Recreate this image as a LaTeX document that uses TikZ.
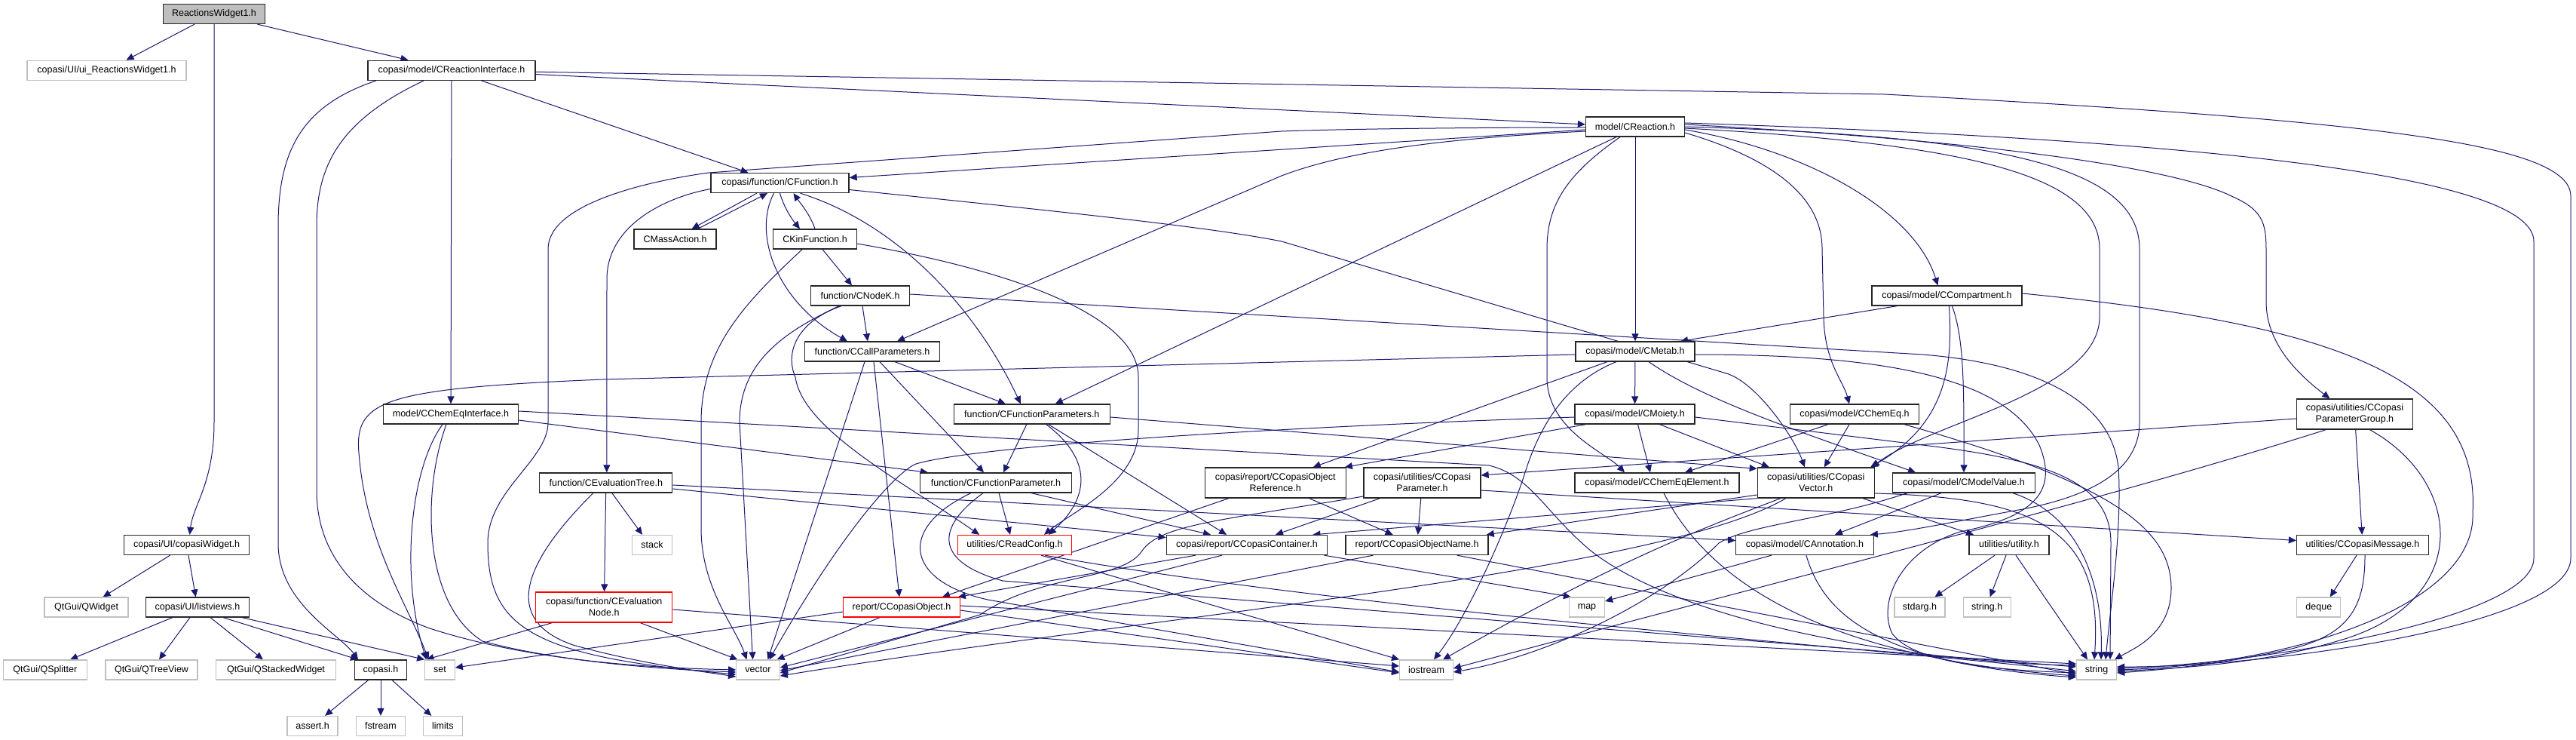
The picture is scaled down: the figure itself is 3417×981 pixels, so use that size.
\documentclass[tikz,border=0pt]{standalone}
\usepackage{fontspec}
\setmainfont{Liberation Sans}
\usetikzlibrary{arrows.meta}
\pgfdeclarelayer{bg}
\pgfsetlayers{bg,main}
\definecolor{edgec}{HTML}{191970}
\definecolor{grayb}{HTML}{BFBFBF}
\begin{document}
\begin{tikzpicture}[x=1pt,y=-1pt,
 nb/.style={draw=black!85,fill=white,line width=1.3pt,inner sep=0pt,minimum height=26pt,align=center,font=\fontsize{12.5pt}{15pt}\selectfont},
 gb/.style={nb,draw=grayb},
 rb/.style={nb,draw=red},
 edg/.style={draw=edgec,line width=1pt,-{Triangle[length=10pt,width=9pt]}}]
\useasboundingbox (0,0) rectangle (3417,981);
% nodes
\node[nb,fill=grayb,minimum width=135pt] (rw) at (284,18.5) {ReactionsWidget1.h};
\node[gb,minimum width=211pt] (uirw) at (141.5,93.3) {copasi/UI/ui\_ReactionsWidget1.h};
\node[nb,minimum width=222pt] (cri) at (599,93.3) {copasi/model/CReactionInterface.h};
\node[nb,minimum width=131pt] (cr) at (2169,168) {model/CReaction.h};
\node[nb,minimum width=183pt] (cfunc) at (1034.5,242.5) {copasi/function/CFunction.h};
\node[nb,minimum width=109pt] (cmass) at (895.6,317) {CMassAction.h};
\node[nb,minimum width=111pt] (ckin) at (1081,317) {CKinFunction.h};
\node[nb,minimum width=131pt] (cnodek) at (1141,392) {function/CNodeK.h};
\node[nb,minimum width=199pt] (ccomp) at (2582.4,392) {copasi/model/CCompartment.h};
\node[nb,minimum width=179pt] (ccallp) at (1157,466) {function/CCallParameters.h};
\node[nb,minimum width=158pt] (cmetab) at (2169,466) {copasi/model/CMetab.h};
\node[nb,minimum width=179pt] (ceqi) at (598,549) {model/CChemEqInterface.h};
\node[nb,minimum width=207pt] (cfps) at (1368.8,549) {function/CFunctionParameters.h};
\node[nb,minimum width=159pt] (cmoiety) at (2168.5,549) {copasi/model/CMoiety.h};
\node[nb,minimum width=171pt] (cchemeq) at (2460,549) {copasi/model/CChemEq.h};
\node[nb,minimum width=154pt,minimum height=40pt] (cpgroup) at (3123.4,549) {copasi/utilities/CCopasi\\ParameterGroup.h};
\node[nb,minimum width=176pt] (cevtree) at (803.8,640) {function/CEvaluationTree.h};
\node[nb,minimum width=201pt] (cfp) at (1321,640) {function/CFunctionParameter.h};
\node[nb,minimum width=187pt,minimum height=40pt] (ccoref) at (1691.7,640) {copasi/report/CCopasiObject\\Reference.h};
\node[nb,minimum width=155pt,minimum height=40pt] (cparam) at (1886.5,640) {copasi/utilities/CCopasi\\Parameter.h};
\node[nb,minimum width=218pt] (cceqel) at (2198,640) {copasi/model/CChemEqElement.h};
\node[nb,minimum width=155pt,minimum height=40pt] (ccvec) at (2408.8,640) {copasi/utilities/CCopasi\\Vector.h};
\node[nb,minimum width=189pt] (cmval) at (2605,640) {copasi/model/CModelValue.h};
\node[nb,minimum width=166pt] (cwidget) at (247.6,722.5) {copasi/UI/copasiWidget.h};
\node[gb,minimum width=53pt] (stack) at (865,722.5) {stack};
\node[rb,minimum width=151pt] (creadcfg) at (1346,722.5) {utilities/CReadConfig.h};
\node[nb,minimum width=213.5pt] (ccont) at (1654,722.5) {copasi/report/CCopasiContainer.h};
\node[nb,minimum width=189pt] (cconame) at (1879.6,722.5) {report/CCopasiObjectName.h};
\node[nb,minimum width=182.5pt] (cannot) at (2393.9,722.5) {copasi/model/CAnnotation.h};
\node[nb,minimum width=106pt] (utility) at (2665,722.5) {utilities/utility.h};
\node[nb,minimum width=175pt] (cmsg) at (3134,722.5) {utilities/CCopasiMessage.h};
\node[gb,minimum width=111pt] (qwidget) at (114.6,805) {QtGui/QWidget};
\node[nb,minimum width=137pt] (listviews) at (262,805) {copasi/UI/listviews.h};
\node[rb,minimum width=181pt,minimum height=40pt] (cevnode) at (801.3,805) {copasi/function/CEvaluation\\Node.h};
\node[rb,minimum width=154.4pt] (ccobj) at (1196,805) {report/CCopasiObject.h};
\node[gb,minimum width=47pt] (map) at (2105,805) {map};
\node[gb,minimum width=67pt] (stdarg) at (2546.5,805) {stdarg.h};
\node[gb,minimum width=63pt] (stringh) at (2635.7,805) {string.h};
\node[gb,minimum width=58pt] (deque) at (3075.8,805) {deque};
\node[gb,minimum width=111pt] (qsplit) at (59.8,888) {QtGui/QSplitter};
\node[gb,minimum width=122pt] (qtree) at (201,888) {QtGui/QTreeView};
\node[gb,minimum width=158.5pt] (qstack) at (366,888) {QtGui/QStackedWidget};
\node[nb,minimum width=69pt] (copasih) at (505,888) {copasi.h};
\node[gb,minimum width=39.5pt] (set) at (583.5,888) {set};
\node[gb,minimum width=57.4pt] (vector) at (1005.5,888) {vector};
\node[gb,minimum width=70.6pt] (iostream) at (1892,888) {iostream};
\node[gb,minimum width=53pt] (string) at (2781,888) {string};
\node[gb,minimum width=67pt] (assert) at (414.6,962.5) {assert.h};
\node[gb,minimum width=64.7pt] (fstream) at (505,962.5) {fstream};
\node[gb,minimum width=51.6pt] (limits) at (587.4,962.5) {limits};

\begin{pgfonlayer}{bg}
\fill[white] (0,0) rectangle (3417,981);
% top
\draw[edg] (rw) -- (uirw);
\draw[edg] (rw) -- (cri);
\draw[edg] (rw.south) -- (284,560) .. controls (284,640) and (256,670) .. ([xshift=4pt]cwidget.north);
\draw[edg] (cwidget) -- (qwidget);
\draw[edg] (cwidget) -- (listviews);
\draw[edg] (listviews) -- (qsplit);
\draw[edg] (listviews) -- (qtree);
\draw[edg] (listviews) -- (qstack);
\draw[edg] ([xshift=34pt]listviews.south) -- ([xshift=-30pt]copasih.north);
\draw[edg] ([xshift=59pt]listviews.south) -- (set.north west);
\draw[edg] (copasih) -- (assert);
\draw[edg] (copasih) -- (fstream);
\draw[edg] (copasih) -- (limits);
% CReactionInterface
\draw[edg] (cri) -- (cr);
\draw[edg] ([yshift=-2pt]cri.east) -- (2500,125) .. controls (3150,160) and (3410,190) .. (3410,260) -- (3410,740) .. controls (3410,830) and (3000,885) .. ([yshift=4pt]string.east);
\draw[edg] (cri) -- ([xshift=-42pt]cfunc.north);
\draw[edg] (cri) -- (ceqi);
\draw[edg] ([xshift=-100pt]cri.south) .. controls (400,140) and (369,200) .. (369,300) -- (369,720) .. controls (369,800) and (450,840) .. ([xshift=-30pt]copasih.north);
\draw[edg] ([xshift=-37pt]cri.south) .. controls (450,160) and (420,220) .. (420,300) -- (420,650) .. controls (420,740) and (480,800) .. (570,833) .. controls (700,875) and (850,885) .. (vector.west);
% CReaction
\draw[edg] ([yshift=-4pt]cr.west) -- ([yshift=7pt]cfunc.east);
\draw[edg] ([yshift=-6pt]cr.west) .. controls (1950,182) and (1800,195) .. (1700,233) -- ([xshift=33pt]ccallp.north);
\draw[edg] ([xshift=-25pt]cr.south) -- ([xshift=31pt]cfps.north);
\draw[edg] ([yshift=-1pt]cr.west) .. controls (1900,169) and (1750,172) .. (1700,174) -- (940,229) .. controls (860,240) and (727,270) .. (727,330) -- (727,560) .. controls (727,610) and (647,650) .. (647,720) .. controls (647,830) and (700,870) .. ([yshift=-6pt]vector.west);
\draw[edg] (cr) -- (cmetab);
\draw[edg] ([xshift=-20pt]cr.south) .. controls (2080,230) and (2052,270) .. (2052,330) -- (2052,500) .. controls (2052,570) and (2130,600) .. ([xshift=-43pt]cceqel.north);
\draw[edg] ([yshift=-8pt]cr.east) .. controls (2350,210) and (2417,260) .. (2417,330) -- (2419,420) .. controls (2420,480) and (2445,505) .. ([xshift=-7pt]cchemeq.north);
\draw[edg] ([yshift=-4pt]cr.east) .. controls (2400,200) and (2540,280) .. ([xshift=-12pt]ccomp.north);
\draw[edg] ([yshift=-2pt]cr.east) .. controls (2600,190) and (2785,230) .. (2785,330) -- (2785,420) .. controls (2785,520) and (2560,560) .. ([xshift=-4pt]ccvec.north east);
\draw[edg] (cr.east) .. controls (2650,180) and (2838,220) .. (2838,330) -- (2838,560) .. controls (2838,630) and (2760,660) .. (2683,675) .. controls (2600,690) and (2530,705) .. ([xshift=-5pt]cannot.north east);
\draw[edg] ([yshift=3pt]cr.east) .. controls (2700,190) and (2900,230) .. (2960,260) .. controls (3006,280) and (3006,300) .. (3006,340) -- (3006,400) .. controls (3006,450) and (3040,490) .. ([xshift=-33pt]cpgroup.north);
\draw[edg] ([yshift=5pt]cr.east) .. controls (2900,185) and (3361,230) .. (3361,320) -- (3361,740) .. controls (3361,820) and (3000,880) .. ([yshift=2pt]string.east);
% CFunction
\draw[edg] ([xshift=-30.5pt]cfunc.south) -- ([xshift=22pt]cmass.north);
\draw[edg] ([xshift=30pt]cmass.north) -- ([xshift=-16.5pt]cfunc.south);
\draw[edg] (cfunc.south) .. controls (1040,275) and (1050,290) .. ([xshift=-20pt]ckin.north);
\draw[edg] (ckin.north) .. controls (1075,285) and (1062,270) .. ([xshift=18pt]cfunc.south);
\draw[edg] ([yshift=-8pt]cfunc.west) .. controls (880,262) and (805,300) .. (805,370) -- ([xshift=1pt]cevtree.north);
\draw[edg] ([xshift=-8pt]cfunc.south) .. controls (998,310) and (1030,400) .. ([xshift=-33pt]ccallp.north);
\draw[edg] ([xshift=27pt]cfunc.south) .. controls (1200,300) and (1300,420) .. ([xshift=-15pt]cfps.north);
\draw[edg] ([yshift=-9pt]cfunc.east) .. controls (1400,280) and (1600,300) .. (1700,320) -- (2290,495) .. controls (2330,507) and (2380,580) .. ([xshift=-15pt]ccvec.north);
% CKinFunction
\draw[edg] ([xshift=10pt]ckin.south) -- ([xshift=-11pt]cnodek.north);
\draw[edg] ([xshift=-17pt]ckin.south) .. controls (990,400) and (930,460) .. (930,560) -- (930,700) .. controls (930,780) and (975,830) .. ([xshift=-15pt]vector.north);
\draw[edg] ([yshift=-6pt]ckin.east) .. controls (1350,360) and (1510,420) .. (1510,500) -- (1510,570) .. controls (1510,640) and (1420,680) .. ([xshift=39pt]creadcfg.north);
% CNodeK
\draw[edg] ([xshift=3pt]cnodek.south) -- ([xshift=-6pt]ccallp.north);
\draw[edg] ([xshift=-28pt]cnodek.south) .. controls (1040,440) and (981,480) .. (981,560) -- ([xshift=-7pt]vector.north);
\draw[edg] ([xshift=-25pt]cnodek.south) .. controls (1060,425) and (1040,465) .. (1055,500) .. controls (1065,570) and (1200,640) .. ([xshift=-47pt]creadcfg.north);
\draw[edg] ([yshift=2pt]cnodek.east) -- (2550,470) .. controls (2700,482) and (2800,530) .. (2810,620) .. controls (2815,700) and (2800,800) .. ([xshift=12pt]string.north);
% CCallParameters
\draw[edg] ([xshift=-10pt]ccallp.south) -- ([xshift=13pt]vector.north);
\draw[edg] ([xshift=2pt]ccallp.south) -- ([xshift=-3pt]ccobj.north);
\draw[edg] ([xshift=10pt]ccallp.south) -- ([xshift=-16pt]cfp.north);
\draw[edg] ([xshift=30pt]ccallp.south) -- ([xshift=-35pt]cfps.north);
% CFunctionParameters
\draw[edg] ([xshift=-7pt]cfps.south) -- ([xshift=10pt]cfp.north);
\draw[edg] ([xshift=19pt]cfps.south) .. controls (1450,610) and (1445,660) .. ([xshift=45pt]creadcfg.north);
\draw[edg] ([xshift=22pt]cfps.south) -- ([xshift=-27pt]ccont.north);
\draw[edg] ([yshift=-4pt]cfps.east) -- ([yshift=-2pt]ccvec.north west);
% CFunctionParameter
\draw[edg] ([xshift=4pt]cfp.south) -- ([xshift=-6pt]creadcfg.north);
\draw[edg] ([xshift=47pt]cfp.south) -- ([xshift=-48pt]ccont.north);
\draw[edg] ([xshift=-33pt]cfp.south) .. controls (1190,700) and (1200,770) .. (1310,795) -- ([yshift=-3pt]iostream.west);
\draw[edg] ([xshift=-17pt]cfp.south) .. controls (1240,700) and (1240,745) .. (1330,770) -- ([yshift=4pt]string.west);
% CChemEqInterface
\draw[edg] ([xshift=-11pt]ceqi.south) .. controls (545,620) and (530,760) .. ([xshift=-18pt]set.north);
\draw[edg] ([xshift=-6pt]ceqi.south) .. controls (560,650) and (560,800) .. (640,850) .. controls (750,880) and (900,888) .. ([yshift=-3pt]vector.west);
\draw[edg] ([yshift=-8pt]ceqi.east) -- ([xshift=-90pt]cfp.north);
\draw[edg] ([yshift=4pt]ceqi.east) -- (1975,617) .. controls (2030,630) and (2050,680) .. (2110,730) .. controls (2250,840) and (2600,880) .. ([yshift=6pt]string.west);
% CEvaluationTree
\draw[edg] ([xshift=8pt]cevtree.south) -- ([xshift=-13pt]stack.north);
\draw[edg] (cevtree) -- (cevnode);
\draw[edg] ([xshift=-17pt]cevtree.south) .. controls (700,740) and (660,820) .. (760,855) .. controls (850,880) and (930,890) .. ([yshift=-9pt]vector.west);
\draw[edg] ([yshift=-8pt]cevtree.east) -- ([yshift=10pt]ccont.west);
\draw[edg] ([yshift=-3pt]cevtree.east) -- ([yshift=6pt]cannot.west);
% CEvaluationNode
\draw[edg] ([xshift=-69pt]cevnode.south) -- ([xshift=-18pt]set.north);
\draw[edg] ([xshift=48pt]cevnode.south) -- ([xshift=-27pt]vector.north);
\draw[edg] ([yshift=-3pt]cevnode.east) -- ([yshift=5pt]iostream.west);
% CReadConfig
\draw[edg] ([xshift=40pt]creadcfg.south) .. controls (1800,810) and (2500,860) .. ([yshift=-2pt]string.west);
\draw[edg] ([xshift=35pt]creadcfg.south) -- (iostream.north west);
% CCopasiObject
\draw[edg] ([xshift=-29pt]ccobj.south) -- ([xshift=25pt]vector.north);
\draw[edg] ([yshift=-6pt]ccobj.west) -- ([yshift=3pt]set.east);
\draw[edg] ([yshift=-4pt]ccobj.east) -- ([yshift=-4pt]iostream.west);
\draw[edg] ([yshift=2pt]ccobj.east) -- ([yshift=8pt]string.west);
% CCopasiObjectReference
\draw[edg] ([xshift=-62pt]ccoref.south) -- ([xshift=54pt]ccobj.north);
\draw[edg] ([xshift=45pt]ccoref.south) -- ([xshift=-32pt]cconame.north);
% CCopasiContainer
\draw[edg] ([xshift=-68pt]ccont.south) -- ([xshift=-3pt]ccobj.north east);
\draw[edg] ([xshift=-33pt]ccont.south) -- ([yshift=3pt]vector.east);
\draw[edg] ([xshift=-5pt]ccont.south east) -- ([xshift=3pt]map.north west);
% CCopasiParameter
\draw[edg] ([xshift=-56pt]cparam.south) -- ([xshift=38pt]ccont.north);
\draw[edg] (cparam) -- (cconame);
\draw[edg] ([yshift=-10pt]cparam.east) -- ([yshift=6pt]cmsg.west);
\draw[edg] ([yshift=-18pt]cparam.west) .. controls (1620,690) and (1540,695) .. (1515,730) .. controls (1490,770) and (1380,760) .. (1300,815) -- ([yshift=-4pt]vector.east);
% CCopasiObjectName
\draw[edg] ([xshift=-58pt]cconame.south) -- ([yshift=-1pt]vector.east);
\draw[edg] ([xshift=53pt]cconame.south) -- ([yshift=-6pt]string.west);
% CMetab
\draw[edg] ([yshift=-4pt]cmetab.west) -- (800,503) .. controls (510,515) and (470,530) .. (476,600) .. controls (485,720) and (540,800) .. ([xshift=-15pt]set.north);
\draw[edg] ([xshift=-37pt]cmetab.south) -- ([xshift=50pt]ccoref.north);
\draw[edg] ([xshift=-25pt]cmetab.south) .. controls (2080,505) and (2045,560) .. (2025,620) .. controls (2000,700) and (1945,820) .. ([xshift=10pt]iostream.north);
\draw[edg] (cmetab) -- (cmoiety);
\draw[edg] ([xshift=18pt]cmetab.south) .. controls (2260,530) and (2380,570) .. ([xshift=-64pt]cmval.north);
\draw[edg] ([yshift=-4pt]cmetab.east) .. controls (2500,470) and (2660,500) .. (2705,590) .. controls (2730,650) and (2700,685) .. (2600,705) .. controls (2520,730) and (2490,800) .. (2510,840) .. controls (2540,880) and (2650,888) .. ([yshift=-4pt]string.west);
% CModelValue
\draw[edg] ([xshift=-30pt]cmval.south) -- ([xshift=40pt]cannot.north);
\draw[edg] ([xshift=-75pt]cmval.south) .. controls (2420,690) and (2320,695) .. (2280,720) .. controls (2200,800) and (2050,870) .. ([yshift=-3pt]iostream.east);
\draw[edg] ([xshift=65pt]cmval.south) .. controls (2750,680) and (2790,760) .. ([xshift=6pt]string.north);
% CMoiety
\draw[edg] ([xshift=-65pt]cmoiety.south) -- ([xshift=-2pt]ccoref.north east);
\draw[edg] ([xshift=4pt]cmoiety.south) -- ([xshift=-9pt]cceqel.north);
\draw[edg] ([xshift=33pt]cmoiety.south) -- ([xshift=-62pt]ccvec.north);
\draw[edg] ([yshift=-4pt]cmoiety.west) .. controls (1700,566) and (1300,590) .. (1215,615) .. controls (1190,625) and (1120,700) .. ([xshift=15pt]vector.north);
\draw[edg] ([yshift=-4pt]cmoiety.east) -- (2550,590) .. controls (2720,610) and (2800,640) .. (2800,720) -- ([xshift=18pt]string.north);
% CChemEq
\draw[edg] ([xshift=-35pt]cchemeq.south) -- ([xshift=37pt]cceqel.north);
\draw[edg] ([xshift=-7pt]cchemeq.south) -- ([xshift=11pt]ccvec.north);
\draw[edg] ([xshift=66pt]cchemeq.south) .. controls (2800,640) and (2880,700) .. (2880,780) .. controls (2880,840) and (2830,860) .. ([xshift=24pt]string.north);
% CCompartment
\draw[edg] ([xshift=-66pt]ccomp.south) -- ([xshift=60pt]cmetab.north);
\draw[edg] ([xshift=3pt]ccomp.south) .. controls (2590,480) and (2585,560) .. ([xshift=-6pt]ccvec.north east);
\draw[edg] ([xshift=7pt]ccomp.south) .. controls (2606,450) and (2605,520) .. (cmval.north);
\draw[edg] ([yshift=3pt]ccomp.east) .. controls (3100,430) and (3290,500) .. (3280,680) .. controls (3285,800) and (3050,880) .. (string.east);
% CChemEqElement
\draw[edg] ([xshift=9pt]cceqel.south) .. controls (2260,760) and (2400,870) .. ([yshift=-8pt]string.west);
% CCopasiVector
\draw[edg] (ccvec.south west) -- ([xshift=-20pt]ccont.north east);
\draw[edg] ([yshift=-16pt]ccvec.west) -- ([xshift=-3pt]cconame.north east);
\draw[edg] ([xshift=-47pt]ccvec.south) .. controls (2260,700) and (2150,740) .. ([xshift=22pt]iostream.north);
\draw[edg] ([xshift=-40pt]ccvec.south) .. controls (2200,760) and (1500,820) .. ([yshift=-8pt]vector.east);
\draw[edg] ([xshift=62pt]ccvec.south) -- ([xshift=-47pt]utility.north);
\draw[edg] ([yshift=-14pt]ccvec.east) .. controls (2700,660) and (2790,700) .. ([xshift=-3pt]string.north);
% CAnnotation
\draw[edg] ([xshift=-44pt]cannot.south) -- ([yshift=8pt]map.east);
\draw[edg] ([xshift=2pt]cannot.south) .. controls (2420,820) and (2500,880) .. ([yshift=-10pt]string.west);
% utility
\draw[edg] ([xshift=-19pt]utility.south) -- ([xshift=20pt]stdarg.north);
\draw[edg] ([xshift=-4pt]utility.south) -- ([xshift=4pt]stringh.north);
\draw[edg] ([xshift=9pt]utility.south) -- ([xshift=-12pt]string.north);
% CCopasiParameterGroup
\draw[edg] ([yshift=-6pt]cpgroup.west) -- ([yshift=10pt]cparam.east);
\draw[edg] (cpgroup) -- (cmsg);
\draw[edg] ([xshift=20pt]cpgroup.south) .. controls (3270,640) and (3280,800) .. (3100,850) .. controls (3000,880) and (2900,885) .. ([yshift=-2pt]string.east);
\draw[edg] ([xshift=-38pt]cpgroup.south) .. controls (2800,660) and (2400,760) .. ([yshift=2pt]iostream.east);
% CCopasiMessage
\draw[edg] ([xshift=-8pt]cmsg.south) -- ([xshift=15pt]deque.north);
\draw[edg] ([xshift=3pt]cmsg.south) .. controls (3137,800) and (3120,840) .. (3040,860) .. controls (2950,880) and (2870,888) .. ([yshift=-4pt]string.east);
\end{pgfonlayer}
\end{tikzpicture}
\end{document}
